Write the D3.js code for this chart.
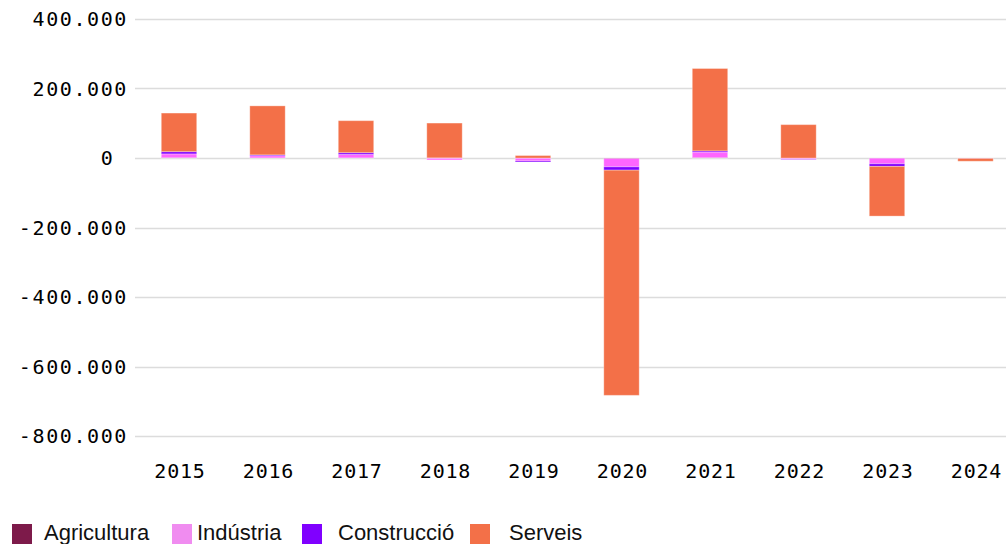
<!DOCTYPE html>
<html>
<head>
<meta charset="utf-8">
<script src="https://cdn.jsdelivr.net/npm/d3@7"></script>
<style>
  body { margin: 0; background: #fff; }
  svg { display: block; }
</style>
</head>
<body>
<div id="chart"></div>
<script>
// anys i series (ocupats, variació anual)
var years = ["2015", "2016", "2017", "2018", "2019", "2020", "2021", "2022", "2023", "2024"];
var sectors = ["Agricultura", "Indústria", "Construcció", "Serveis"];
var agricultura = [800, 500, 400, -600, -500, -1500, 1000, -800, -700, -300];
var industria   = [11000, 6000, 10000, -5000, -8000, -24000, 16000, -3000, -16000, -1000];
var construccio = [6500, 2500, 5000, 500, -3000, -9500, 3500, -1000, -7500, 0];
var serveis     = [111000, 141000, 92000, 100000, 7000, -648000, 237000, 96000, -143000, -8000];
var yTicks = [-800000, -600000, -400000, -200000, 0, 200000, 400000];

var barColors = ["#7d1a4a", "#ff66ff", "#8000ff", "#f37048"];
var legendColors = ["#7d1a4a", "#f08cf0", "#8000ff", "#f37048"];

var width = 1006, height = 544;

var rows = years.map(function(y, i){
    return {year: y, "Agricultura": agricultura[i], "Indústria": industria[i],
            "Construcció": construccio[i], "Serveis": serveis[i]};
});

var svg = d3.select("#chart").append("svg")
    .attr("width", width)
    .attr("height", height);

var x = d3.scaleBand()
    .domain(years)
    .range([134.75, 1019.75])
    .paddingInner(0.6)
    .paddingOuter(0.3);

var y = d3.scaleLinear()
    .domain([-800000, 400000])
    .range([436, 19]);

var loc = d3.formatLocale({decimal: ",", thousands: ".", grouping: [3], currency: ["", "€"], minus: "-"});
var fmt = loc.format(",.0f");

// gridlines
svg.append("g").selectAll("line")
    .data(yTicks)
    .enter().append("line")
    .attr("x1", 135).attr("x2", width)
    .attr("y1", function(d){ return Math.round(y(d)) + 0.5; })
    .attr("y2", function(d){ return Math.round(y(d)) + 0.5; })
    .attr("stroke", "#dcdcdc")
    .attr("stroke-width", 1.5);

// y labels
svg.append("g").selectAll("text")
    .data(yTicks)
    .enter().append("text")
    .attr("x", 128)
    .attr("y", function(d){ return y(d) + 7; })
    .attr("text-anchor", "end")
    .attr("font-family", "DejaVu Sans Mono, monospace")
    .attr("font-size", "20px")
    .attr("letter-spacing", "1.6px")
    .attr("fill", "#000")
    .text(function(d){ return d === 0 ? "0\u00a0" : fmt(d); });

var stack = d3.stack()
    .keys(sectors)
    .offset(d3.stackOffsetDiverging);
var series = stack(rows);

svg.append("g").selectAll("g")
    .data(series)
    .enter().append("g")
    .attr("fill", function(d, i){ return barColors[i]; })
    .selectAll("rect")
    .data(function(d){ return d; })
    .enter().append("rect")
    .attr("x", function(d){ return x(d.data.year); })
    .attr("width", x.bandwidth())
    .attr("y", function(d){ return y(Math.max(d[0], d[1])); })
    .attr("height", function(d){ return Math.abs(y(d[0]) - y(d[1])); })
    .attr("stroke", "rgba(255,255,255,0.3)")
    .attr("stroke-width", 1);

// x labels
svg.append("g").selectAll("text")
    .data(years)
    .enter().append("text")
    .attr("x", function(d){ return x(d) + x.bandwidth() / 2 + 1; })
    .attr("y", 478)
    .attr("text-anchor", "middle")
    .attr("font-family", "DejaVu Sans Mono, monospace")
    .attr("font-size", "20px")
    .attr("letter-spacing", "0.8px")
    .attr("fill", "#000")
    .text(function(d){ return d; });

// legend
var legendX = [12, 172, 302, 470];
var legendTextX = [44, 197, 338, 509];
var leg = svg.append("g").selectAll("g")
    .data(sectors)
    .enter().append("g");
leg.append("rect")
    .attr("x", function(d, i){ return legendX[i]; })
    .attr("y", 524)
    .attr("width", 20)
    .attr("height", 20)
    .attr("fill", function(d, i){ return legendColors[i]; });
leg.append("text")
    .attr("x", function(d, i){ return legendTextX[i]; })
    .attr("y", 540)
    .attr("font-family", "Liberation Sans, Arial, sans-serif")
    .attr("font-size", "22px")
    .attr("fill", "#111")
    .text(function(d){ return d; });
</script>
</body>
</html>
